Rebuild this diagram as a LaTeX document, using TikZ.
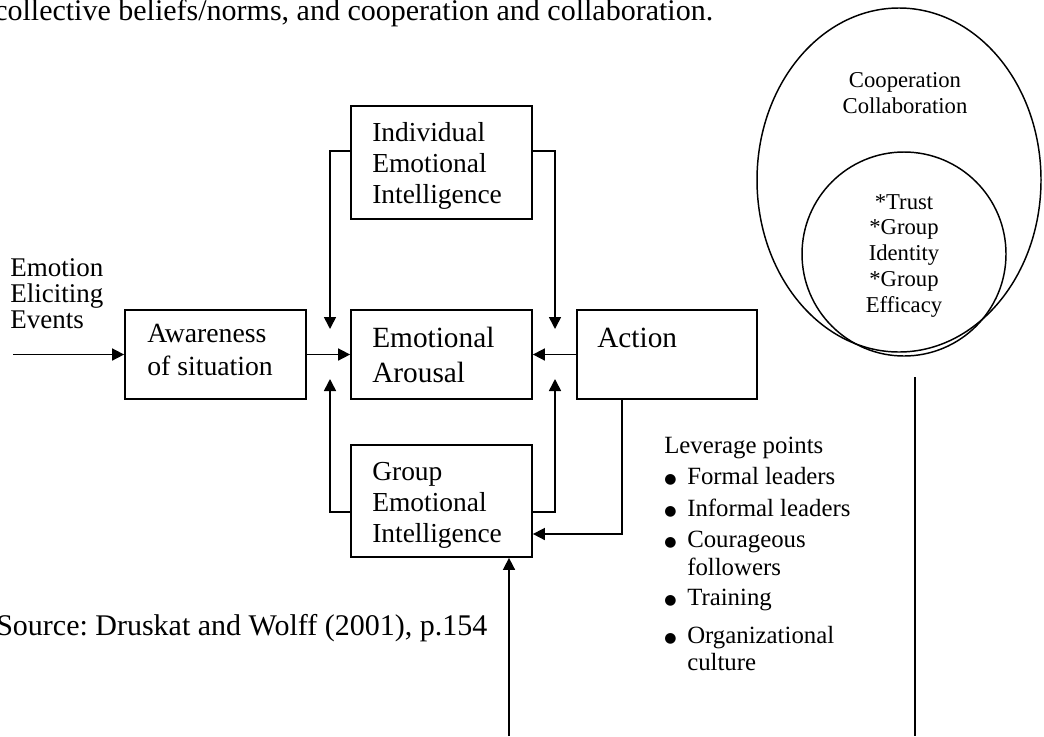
\documentclass[tikz,border=0pt]{standalone}
\usepackage{fontspec}
\setmainfont{Liberation Serif}
\newfontfamily\djv{DejaVu Sans}
\usetikzlibrary{arrows.meta}
\newcommand\fsz[2]{\fontsize{#1}{#2}\selectfont}
\newcommand\nsp{\spaceskip=0pt\xspaceskip=0pt\frenchspacing}
\newcommand\bul{\makebox[17.25pt][l]{\raisebox{0.6pt}{\djv\fontsize{10.5pt}{10pt}\selectfont ●}}}
\newcommand\bulind{\hspace*{17.25pt}}
\begin{document}
\begin{tikzpicture}[x=0.75pt,y=-0.75pt,
  box/.style={draw, line width=1.3pt, minimum width=135.75pt, inner sep=0pt},
  txt/.style={inner sep=0pt, anchor=base west, align=left, text width=150pt},
  ctxt/.style={inner sep=0pt, anchor=base, align=center, text width=120pt},
  arr/.style={line width=1.2pt, -{Triangle[length=9pt,width=9pt]}},
  ln/.style={line width=1.2pt},
  ring/.style={line width=1.1pt}]
\useasboundingbox (0,0) rectangle (1044,736);
\clip (0,0) rectangle (1044,736);

% top and source text
\node[txt, text width=600pt, font=\fsz{22.5pt}{26pt}] (top) at (-6,20) {\nsp collective beliefs/norms, and cooperation and collaboration.};
\node[txt, text width=400pt, font=\fsz{22.5pt}{26pt}] (src) at (-4,635) {\nsp Source: Druskat and Wolff (2001), p.154};

% boxes
\node[box, minimum height=84.75pt] (ind) at (441.5,162.5) {};
\node[box, minimum height=66.75pt] (ea) at (441.5,354.5) {};
\node[box, minimum height=66.75pt, minimum width=135pt] (act) at (667,354.5) {};
\node[box, minimum height=66.75pt] (awa) at (215.5,354.5) {};
\node[box, minimum height=84pt] (grp) at (441.5,501) {};

% box texts
\node[txt, font=\fsz{20.6pt}{23.25pt}] (indt) at (372,141) {Individual\\Emotional\\Intelligence};
\node[txt, font=\fsz{22pt}{26.25pt}] (eat) at (372,347) {Emotional\\Arousal};
\node[txt, font=\fsz{22pt}{26.25pt}] (actt) at (597,347) {Action};
\node[txt, font=\fsz{20.8pt}{24.75pt}] (awat) at (147,342) {\nsp Awareness\\of situation};
\node[txt, font=\fsz{20.6pt}{23.5pt}] (grpt) at (372,480) {Group\\Emotional\\Intelligence};
\node[txt, font=\fsz{20.25pt}{19.5pt}] (eee) at (10,276) {Emotion\\Eliciting\\Events};

% leverage points
\node[txt, text width=250pt, font=\fsz{18.6pt}{21pt}] (lev) at (664,453) {\nsp Leverage points\\[2.25pt]
\bul Formal leaders\\[3pt]
\bul Informal leaders\\[2.25pt]
\bul Courageous\\
\bulind followers\\[1.5pt]
\bul Training\\[7.5pt]
\bul Organizational\\[-0.75pt]
\bulind culture};

% ellipses
\draw[ring] (899,180) ellipse [x radius=106.5pt, y radius=129pt];
\draw[ring] (904,254) circle [radius=76.5pt];
\node[ctxt, font=\fsz{17pt}{19.5pt}] (coop) at (905,87) {Cooperation\\Collaboration};
\node[ctxt, font=\fsz{17pt}{19.4pt}] (trust) at (904,209) {{*}Trust\\{*}Group\\Identity\\{*}Group\\Efficacy};

% free coordinates
\coordinate (in) at (13,354.5);
\coordinate (tl) at (330,329);
\coordinate (tr) at (555,329);
\coordinate (bl) at (330,379);
\coordinate (br) at (555,379);
\coordinate (bot) at (509,736);
\coordinate (vt) at (915,377);
\coordinate (vb) at (915,736);

% connectors
\draw[arr] (in) -- (awa.west);
\draw[arr] (awa.east) -- (ea.west);
\draw[arr] (act.west) -- (ea.east);
\draw[arr] (ind.west |- 0,151) -| (tl);
\draw[arr] (ind.east |- 0,151) -| (tr);
\draw[arr] (grp.west |- 0,512) -| (bl);
\draw[arr] (grp.east |- 0,512) -| (br);
\draw[arr] (act.south -| 622,0) |- (grp.east |- 0,534);
\draw[arr] (bot) -- (grp.south -| bot);
\draw[ln] (vt) -- (vb);
\end{tikzpicture}
\end{document}
